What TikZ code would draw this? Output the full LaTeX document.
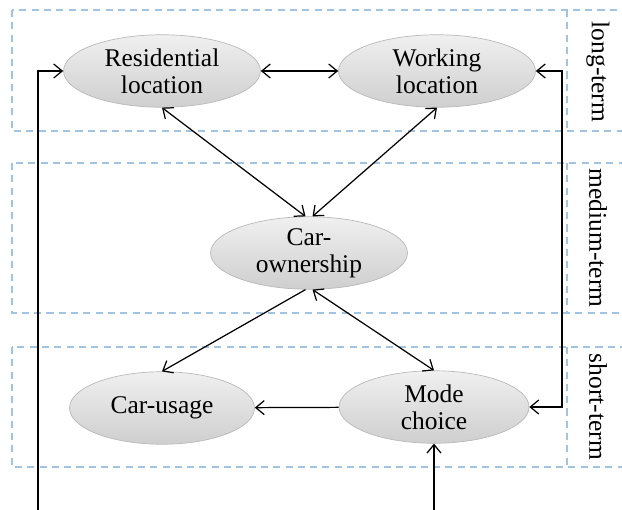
\documentclass[tikz,border=0pt]{standalone}
\usepackage{fontspec}
\setmainfont{Liberation Serif}
\usetikzlibrary{
    arrows.meta,
    shapes.geometric
}
\definecolor{boxblue}{RGB}{160,196,226}

\begin{document}
\begin{tikzpicture}[x=0.02cm, y=-0.02cm,
    font=\fontsize{14.5}{15.5}\selectfont,
    stage/.style={ellipse, draw=gray!55, top color=gray!12, bottom color=gray!38,
        minimum width=3.94cm, minimum height=1.45cm, inner sep=0pt, align=center},
    band/.style={draw=boxblue, dash pattern=on 4pt off 3pt, line width=0.7pt},
    link/.style={line width=0.7pt, -{Straight Barb[length=1.7mm, width=2.8mm]}},
    dlink/.style={line width=0.7pt, {Straight Barb[length=1.7mm, width=2.8mm]}-{Straight Barb[length=1.7mm, width=2.8mm]}}
]

\useasboundingbox (0,0) rectangle (622,510);
\clip (0,0) rectangle (622,510);

% Time bands
\draw[band] (12,10) rectangle (630,131);
\draw[band] (12,163) rectangle (630,313);
\draw[band] (12,347) rectangle (630,467);
\draw[band] (567,10) -- (567,131);
\draw[band] (567,163) -- (567,313);
\draw[band] (567,347) -- (567,467);

% Band labels
\node[rotate=-90] (longterm) at (598,72) {long-term};
\node[rotate=-90] (mediumterm) at (598,238) {medium-term};
\node[rotate=-90] (shortterm) at (598,407) {short-term};

% Choices
\node[stage] (res) at (162,71) {Residential\\location};
\node[stage] (work) at (437,71) {Working\\location};
\node[stage] (own) at (309,253) {Car-\\ownership};
\node[stage, minimum width=3.7cm] (usage) at (162,408) {Car-usage};
\node[stage, minimum width=3.8cm] (mode) at (434,407) {Mode\\choice};

% Free ends
\coordinate (inleft) at (38,510);
\coordinate (inmode) at (434,510);
\coordinate (rline) at (562,0);

% Links
\draw[dlink] (res) -- (work);
\draw[dlink] (res.south) -- ([xshift=-2pt]own.north);
\draw[dlink] (work.south) -- ([xshift=2pt]own.north);
\draw[link] ([xshift=-2pt]own.south) -- (usage.north);
\draw[dlink] ([xshift=2pt]own.south) -- (mode.north);
\draw[link] (mode) -- (usage);

% Feedback
\draw[link] (inleft) |- (res.west);
\draw[dlink] (work.east) -- (work.east -| rline) |- (mode.east);
\draw[link] (inmode) -- (mode.south);

\end{tikzpicture}
\end{document}
